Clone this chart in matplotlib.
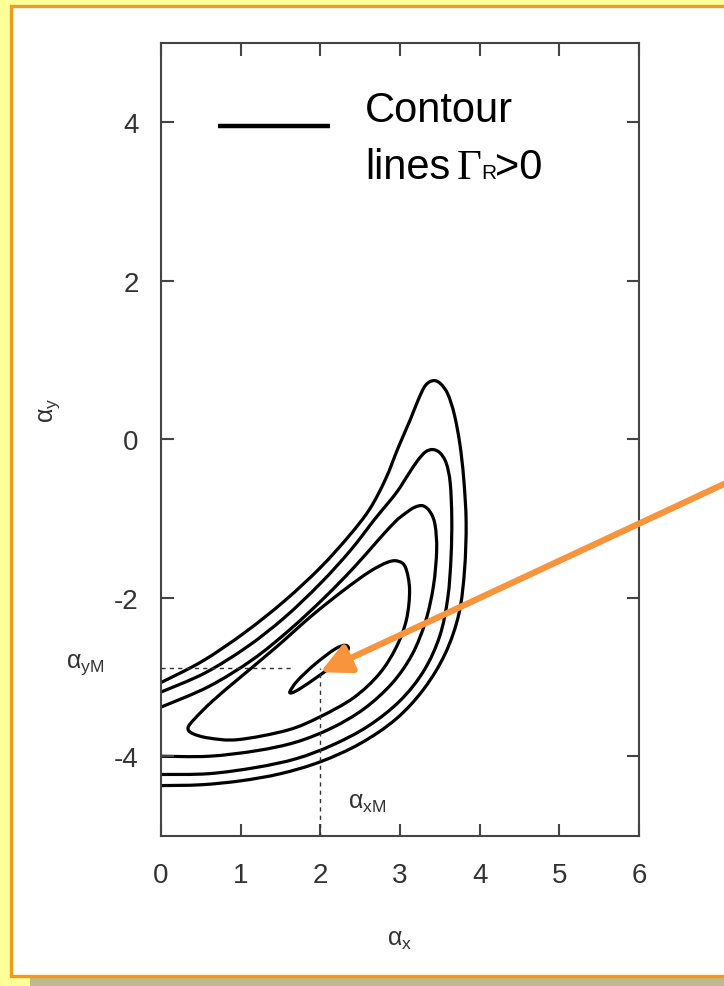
import numpy as np
import matplotlib
matplotlib.use("Agg")
import matplotlib.pyplot as plt
from matplotlib.patches import Rectangle, PathPatch
from matplotlib.path import Path

# Contour lines of Gamma_R > 0 in the (alpha_x, alpha_y) plane, outermost first
contour_1 = [(0.00, -4.37), (0.50, -4.36), (1.00, -4.31), (1.50, -4.22), (2.00, -4.07),
             (2.50, -3.84), (2.95, -3.53), (3.30, -3.15), (3.57, -2.70), (3.74, -2.20),
             (3.81, -1.65), (3.83, -1.05), (3.80, -0.50), (3.75, -0.05), (3.68, 0.32),
             (3.60, 0.57), (3.51, 0.70), (3.42, 0.74),
             (3.32, 0.68), (3.23, 0.50), (3.13, 0.25), (2.98, -0.10), (2.82, -0.50),
             (2.62, -0.88), (2.36, -1.22), (2.00, -1.62), (1.55, -2.04), (1.05, -2.44),
             (0.52, -2.80), (0.00, -3.07)]
contour_2 = [(0.00, -4.23), (0.60, -4.22), (1.20, -4.14), (1.70, -4.03), (2.15, -3.86),
             (2.60, -3.62), (3.00, -3.30), (3.30, -2.92), (3.50, -2.48), (3.60, -2.00),
             (3.64, -1.50), (3.65, -1.00), (3.63, -0.55), (3.58, -0.30), (3.50, -0.17),
             (3.41, -0.13),
             (3.32, -0.16), (3.22, -0.27), (3.10, -0.45), (2.95, -0.68), (2.69, -1.00),
             (2.38, -1.40), (2.00, -1.82), (1.55, -2.25), (1.08, -2.62), (0.55, -2.95),
             (0.00, -3.19)]
contour_3 = [(0.00, -4.00), (0.60, -4.00), (1.20, -3.93), (1.70, -3.82), (2.15, -3.64),
             (2.55, -3.40), (2.90, -3.08), (3.15, -2.72), (3.32, -2.30), (3.42, -1.85),
             (3.46, -1.40), (3.44, -1.08), (3.38, -0.92), (3.29, -0.84),
             (3.18, -0.86), (3.06, -0.94), (2.94, -1.04), (2.72, -1.28), (2.42, -1.62),
             (2.05, -2.00), (1.62, -2.40), (1.15, -2.78), (0.60, -3.12), (0.00, -3.38)]
contour_4 = [(2.98, -1.54), (3.07, -1.62), (3.12, -1.90), (3.08, -2.28), (2.95, -2.63),
             (2.74, -2.96), (2.42, -3.26), (2.00, -3.50), (1.59, -3.67), (0.97, -3.79),
             (0.60, -3.77), (0.39, -3.71), (0.34, -3.64), (0.42, -3.53), (0.65, -3.30),
             (1.00, -3.00), (1.45, -2.62), (1.90, -2.22), (2.30, -1.90), (2.62, -1.67),
             (2.85, -1.55)]
contour_5 = [(1.64, -3.20), (1.74, -3.15), (1.99, -2.98), (2.25, -2.78), (2.35, -2.65),
             (2.31, -2.60), (2.18, -2.65), (1.93, -2.84), (1.71, -3.05), (1.62, -3.18)]
open_contours = [contour_1, contour_2, contour_3]
closed_contours = [contour_4, contour_5]

# Location of the maximum
alpha_xM = 2.0
alpha_yM = -2.89
dash_x_end = 1.65

x_ticks = [0, 1, 2, 3, 4, 5, 6]
y_ticks = [-4, -2, 0, 2, 4]

W, H = 724, 987
plt.rcParams['font.family'] = ['Liberation Sans', 'DejaVu Sans']
plt.rcParams['mathtext.fontset'] = 'custom'
plt.rcParams['mathtext.rm'] = 'Liberation Sans'
plt.rcParams['mathtext.it'] = 'Liberation Sans'
plt.rcParams['axes.unicode_minus'] = False


def smooth_path(points, closed=False):
    """Catmull-Rom curve through the points, as cubic Bezier segments."""
    P = np.asarray(points, dtype=float)
    n = len(P)
    verts = [P[0]]
    codes = [Path.MOVETO]
    segs = n if closed else n - 1
    for i in range(segs):
        if closed:
            p0, p1, p2, p3 = P[(i - 1) % n], P[i], P[(i + 1) % n], P[(i + 2) % n]
        else:
            p0 = P[i - 1] if i > 0 else P[i]
            p1, p2 = P[i], P[i + 1]
            p3 = P[i + 2] if i + 2 < n else P[i + 1]
        verts += [p1 + (p2 - p0) / 6, p2 - (p3 - p1) / 6, p2]
        codes += [Path.CURVE4] * 3
    return Path(np.array(verts), codes)


fig = plt.figure(figsize=(W / 100, H / 100), dpi=100)
fig.patch.set_facecolor('#FFFF99')


def fx(px):
    return px / W


def fy(py):
    return 1 - py / H


# slide panel: drop shadow, white card with orange border
fig.add_artist(Rectangle((fx(30), 0), fx(700), 9 / H, transform=fig.transFigure,
                         facecolor='#BDBB8C', edgecolor='none', zorder=-20))
fig.add_artist(Rectangle((fx(11), fy(977)), fx(730), 970 / H, transform=fig.transFigure,
                         facecolor='white', edgecolor='#F39A1E', linewidth=2.4,
                         zorder=-10, clip_on=False))

ax = fig.add_axes([fx(161), 150.5 / H, 478 / W, 792.5 / H])
ax.set_facecolor('none')
ax.set_xlim(0, 6)
ax.set_ylim(-5, 5)

for c in open_contours:
    ax.add_patch(PathPatch(smooth_path(c), fill=False, edgecolor='black', lw=2.3,
                           joinstyle='round', capstyle='round'))
for c in closed_contours:
    ax.add_patch(PathPatch(smooth_path(c, closed=True), fill=False, edgecolor='black',
                           lw=2.3, joinstyle='round'))

ax.plot([alpha_xM, alpha_xM], [-5, alpha_yM], color='#333333', lw=1.0, ls=(0, (3, 3)))
ax.plot([0, dash_x_end], [alpha_yM, alpha_yM], color='#333333', lw=1.0, ls=(0, (3, 3)))

ax.set_xticks(x_ticks)
ax.set_yticks(y_ticks)
ax.tick_params(direction='in', length=9, width=1.5, color='#444444', top=True, right=True,
               labelsize=20, labelcolor='#333333')
ax.tick_params(axis='x', pad=19)
ax.tick_params(axis='y', pad=16)
for s in ax.spines.values():
    s.set_color('#444444')
    s.set_linewidth(1.5)

# axis labels and markers of the maximum
fig.text(fx(400), fy(940), r'$\mathrm{\alpha_{x}}$', ha='center', va='center',
         fontsize=18, color='#333333')
fig.text(fx(50), fy(410), r'$\mathrm{\alpha_{y}}$', ha='center', va='center',
         fontsize=18, color='#333333', rotation=90)
fig.text(fx(85), fy(665), r'$\mathrm{\alpha_{yM}}$', ha='center', va='center',
         fontsize=18, color='#333333')
fig.text(fx(367), fy(803), r'$\mathrm{\alpha_{xM}}$', ha='center', va='center',
         fontsize=18, color='#333333')

# legend sample
ax.plot([0.72, 2.12], [3.95, 3.95], color='black', lw=3.2, solid_capstyle='butt')
fig.text(fx(365), fy(122), 'Contour', fontsize=30, color='black', va='baseline')
fig.text(fx(365), fy(179), 'lines', fontsize=30, color='black', va='baseline')
fig.text(fx(457), fy(179), '\u0393', fontsize=31, color='black', va='baseline',
         family=['Liberation Serif', 'DejaVu Serif'])
fig.text(fx(481), fy(179), 'R', fontsize=15, color='black', va='baseline')
fig.text(fx(495), fy(179), '>0', fontsize=30, color='black', va='baseline')

# pointer to the maximum
ax.annotate('', xy=(alpha_xM, -2.94), xytext=(1.0, fy(485)), textcoords='figure fraction',
            arrowprops=dict(arrowstyle='-|>,head_length=1.8,head_width=0.9',
                            color='#F7943C', lw=4.5, shrinkA=0, shrinkB=0),
            annotation_clip=False)

fig.savefig('out.png', dpi=100, facecolor=fig.get_facecolor())
